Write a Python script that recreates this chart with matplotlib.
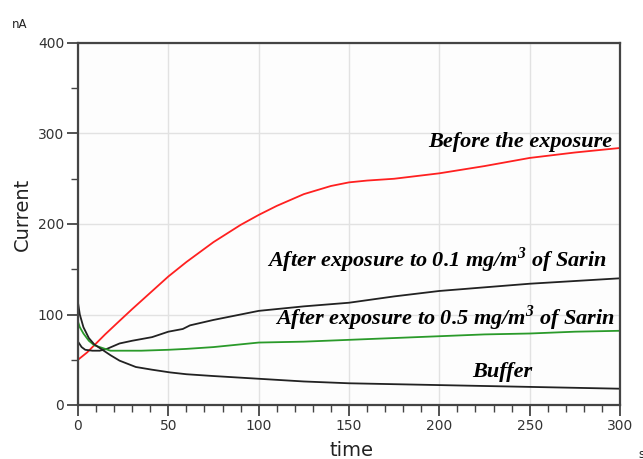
import numpy as np
import matplotlib
matplotlib.use('Agg')
import matplotlib.pyplot as plt
from matplotlib.ticker import MultipleLocator

# Before the exposure (red)
t_before = [0, 5, 10, 15, 23, 30, 40, 50, 60, 75, 90, 100, 110, 125, 140, 150, 160, 175, 200, 225, 250, 275, 300]
i_before = [50, 58, 68, 78, 93, 106, 124, 142, 158, 180, 199, 210, 220, 233, 242, 246, 248, 250, 256, 264, 273, 279, 284]

# After exposure to 0.1 mg/m3 (black)
t_01 = [0, 2, 4, 8, 12, 16, 23, 30, 41, 50, 58, 62, 75, 90, 100, 125, 150, 175, 200, 225, 250, 275, 300]
i_01 = [70, 64, 61, 60, 60, 62, 68, 71, 75, 81, 84, 88, 94, 100, 104, 109, 113, 120, 126, 130, 134, 137, 140]

# After exposure to 0.5 mg/m3 (green)
t_05 = [0, 1, 3, 6, 9, 12, 18, 25, 35, 50, 60, 75, 100, 125, 150, 175, 200, 225, 250, 275, 300]
i_05 = [92, 86, 79, 71, 66, 64, 60, 60, 60, 61, 62, 64, 69, 70, 72, 74, 76, 78, 79, 81, 82]

# Buffer (black)
t_buf = [0, 1, 3, 6, 9, 12, 18, 23, 32, 41, 51, 60, 75, 100, 125, 150, 175, 200, 225, 250, 275, 300]
i_buf = [113, 100, 86, 74, 67, 63, 55, 49, 42, 39, 36, 34, 32, 29, 26, 24, 23, 22, 21, 20, 19, 18]

fig = plt.figure(figsize=(6.43, 4.59), dpi=100)
ax = fig.add_axes([78/643, 1-405/459, 542/643, 362/459])
ax.set_facecolor('#fdfdfd')

ax.plot(t_before, i_before, color='#ff2020', lw=1.3)
ax.plot(t_01, i_01, color='#222222', lw=1.3)
ax.plot(t_05, i_05, color='#2a9a2a', lw=1.3)
ax.plot(t_buf, i_buf, color='#222222', lw=1.3)

ax.set_xlim(0, 300)
ax.set_ylim(0, 400)
ax.xaxis.set_major_locator(MultipleLocator(50))
ax.xaxis.set_minor_locator(MultipleLocator(10))
ax.yaxis.set_major_locator(MultipleLocator(100))
ax.yaxis.set_minor_locator(MultipleLocator(50))
ax.grid(True, which='major', color='#e2e2e2', lw=1)
ax.set_axisbelow(True)
for s in ax.spines.values():
    s.set_color('#444444')
    s.set_linewidth(1.6)
ax.tick_params(which='major', length=8, width=1.3, color='#444444', labelsize=10, labelcolor='#333333', pad=2)
ax.tick_params(which='minor', length=5, width=1.0, color='#444444')

fig.text(22/643, 1-214/459, 'Current', rotation=90, ha='center', va='center', fontsize=14, color='#222222')
fig.text(352/643, 1-441/459, 'time', ha='center', va='top', fontsize=14, color='#222222')
fig.text(20/643, 1-24/459, 'nA', ha='center', va='center', fontsize=8.5, color='#222222')
fig.text(638/643, 1-454/459, 's', ha='left', va='center', fontsize=8.5, color='#222222')

# curve labels, bold italic serif
tfont = dict(family='Liberation Serif', weight='bold', style='italic', fontsize=16, color='black')
ax.text(295.5, 291, 'Before the exposure', ha='right', va='center', **tfont)
ax.text(292.8, 160, 'After exposure to 0.1 mg/m$^{\\mathregular{3}}$ of Sarin', ha='right', va='center', **tfont)
ax.text(297.2, 96, 'After exposure to 0.5 mg/m$^{\\mathregular{3}}$ of Sarin', ha='right', va='center', **tfont)
ax.text(234.6, 37, 'Buffer', ha='center', va='center', **tfont)

fig.savefig('out.png', dpi=100)
